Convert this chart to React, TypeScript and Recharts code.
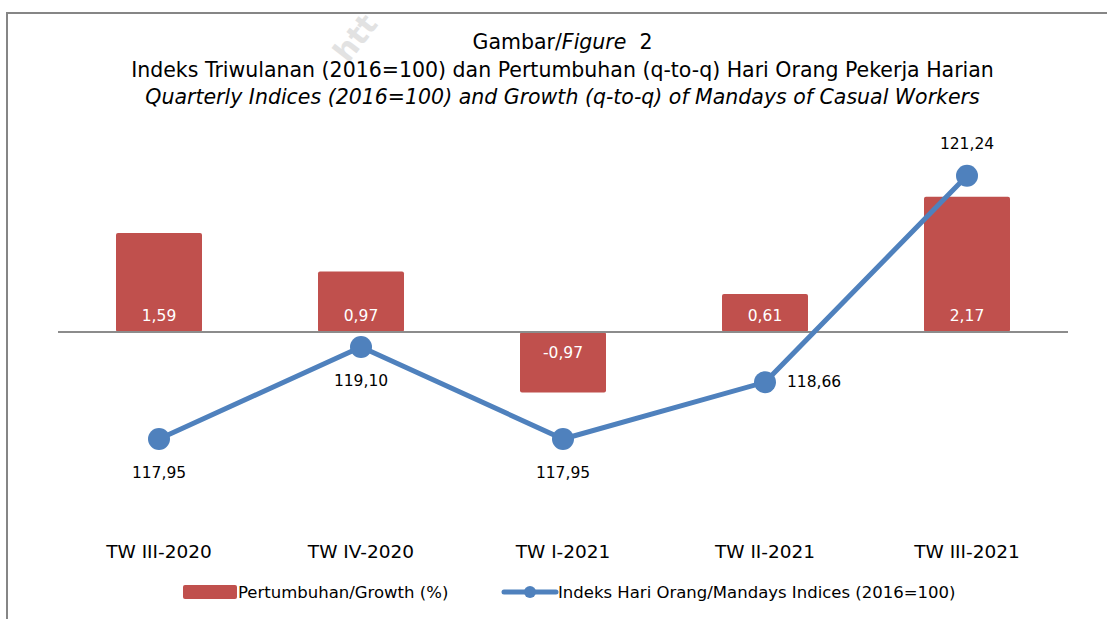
import { ComposedChart, Bar, Line, XAxis, YAxis, ReferenceLine, LabelList } from "recharts";

const categories = ["TW III-2020", "TW IV-2020", "TW I-2021", "TW II-2021", "TW III-2021"];
const growth = [1.59, 0.97, -0.97, 0.61, 2.17];
const indices = [117.95, 119.1, 117.95, 118.66, 121.24];
const lineLabelPos = ["bottom", "bottom", "bottom", "right", "top"];

const data = categories.map((name, i) => ({ name, growth: growth[i], index: indices[i] }));

const FONT = "'DejaVu Sans', sans-serif";
const fmt = (v: number) => v.toFixed(2).replace(".", ",");

const BarLabel = (props: any) => {
  const { x, y, width, height, value } = props;
  const top = Math.min(y, y + height);
  const bottom = Math.max(y, y + height);
  const cy = value >= 0 ? bottom - 16 : top + 21;
  return (
    <text x={x + width / 2} y={cy} fill="#fff" fontSize={15.5} textAnchor="middle" dominantBaseline="central" fontFamily={FONT}>
      {fmt(value)}
    </text>
  );
};

const LineLabel = (props: any) => {
  const { x, y, value, index } = props;
  const pos = lineLabelPos[index];
  let lx = x, ly = y, anchor: any = "middle";
  if (pos === "bottom") ly = y + 34;
  if (pos === "top") ly = y - 32;
  if (pos === "right") { lx = x + 22; anchor = "start"; }
  return (
    <text x={lx} y={ly} fill="#000" fontSize={15.5} textAnchor={anchor} dominantBaseline="central" fontFamily={FONT}>
      {fmt(value)}
    </text>
  );
};

const XTick = (props: any) => {
  const { x, y, payload } = props;
  return (
    <text x={x} y={y + 24} fill="#000" fontSize={18.5} textAnchor="middle" dominantBaseline="central" fontFamily={FONT}>
      {payload.value}
    </text>
  );
};

export default function App() {
  return (
    <div style={{ position: "absolute", left: 0, top: 0, width: 1107, height: 619, background: "#fff", fontFamily: FONT, overflow: "hidden" }}>
      <div style={{ position: "absolute", left: 6, top: 12, width: 1110, height: 620, borderLeft: "2px solid #868686", borderTop: "2px solid #868686" }} />
      <svg style={{ position: "absolute", left: 0, top: 0 }} width={1107} height={120}>
        <text x={348} y={64} fontSize={30} fontWeight="bold" fill="#e2e2e2" transform="rotate(-52 348 64)" fontFamily={FONT}>htt</text>
      </svg>
      <div style={{ position: "absolute", left: 0, width: 1125, top: 29, textAlign: "center", fontSize: 20.5, lineHeight: "27.5px", color: "#000" }}>
        <div>Gambar/<i>Figure</i>&nbsp; 2</div>
        <div>Indeks Triwulanan (2016=100) dan Pertumbuhan (q-to-q) Hari Orang Pekerja Harian</div>
        <div><i>Quarterly Indices (2016=100) and Growth (q-to-q) of Mandays of Casual Workers</i></div>
      </div>
      <div style={{ position: "absolute", left: 0, top: 0 }}>
        <ComposedChart width={1107} height={619} data={data} margin={{ top: 145, right: 39, bottom: 70, left: 58 }}>
          <XAxis dataKey="name" axisLine={false} tickLine={false} tick={<XTick />} height={30} interval={0} />
          <YAxis yAxisId="g" hide domain={[-3, 3]} />
          <YAxis yAxisId="i" hide orientation="right" domain={[116.95, 121.625]} />
          <ReferenceLine yAxisId="g" y={0} stroke="#8c8c8c" strokeWidth={2} />
          <Bar yAxisId="g" dataKey="growth" fill="#C0504D" barSize={86} radius={2} isAnimationActive={false}>
            <LabelList dataKey="growth" content={<BarLabel />} />
          </Bar>
          <Line yAxisId="i" dataKey="index" stroke="#4F81BD" strokeWidth={5} dot={{ r: 11, fill: "#4F81BD", stroke: "#4F81BD", strokeWidth: 0 }} isAnimationActive={false}>
            <LabelList dataKey="index" content={<LineLabel />} />
          </Line>
        </ComposedChart>
      </div>
      <svg style={{ position: "absolute", left: 0, top: 575 }} width={1107} height={40}>
        <rect x={183} y={10} width={54} height={14} rx={2} fill="#C0504D" />
        <text x={238} y={17} fontSize={16.5} dominantBaseline="central" fontFamily={FONT}>Pertumbuhan/Growth (%)</text>
        <line x1={504} y1={17} x2={556} y2={17} stroke="#4F81BD" strokeWidth={5} strokeLinecap="round" />
        <circle cx={530} cy={17} r={6} fill="#4F81BD" />
        <text x={558} y={17} fontSize={16.5} dominantBaseline="central" fontFamily={FONT}>Indeks Hari Orang/Mandays Indices (2016=100)</text>
      </svg>
    </div>
  );
}
